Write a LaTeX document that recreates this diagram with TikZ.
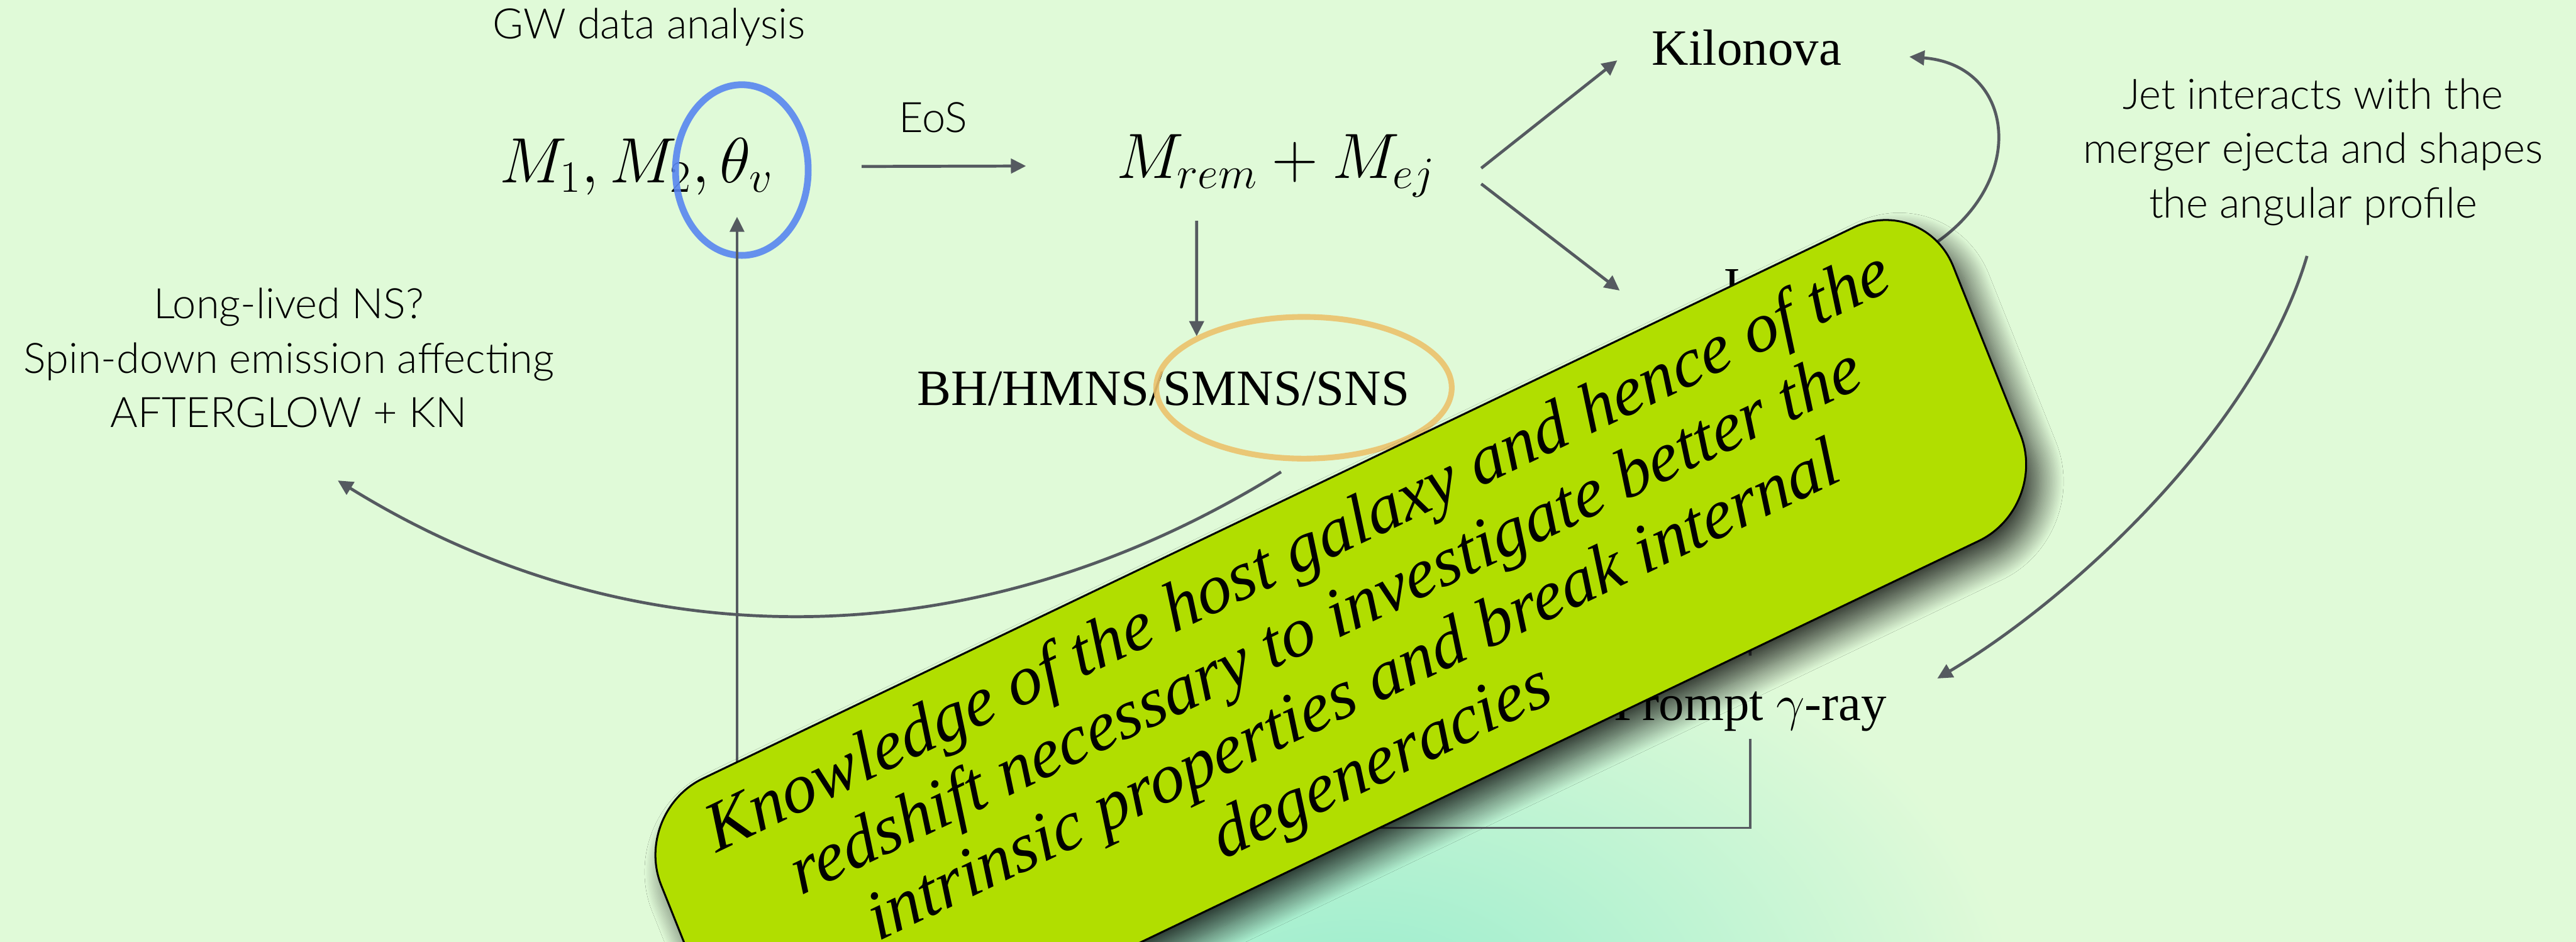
\documentclass[tikz,border=0pt]{standalone}
\usepackage{fix-cm}
\usepackage[no-math]{fontspec}
\setmainfont{Liberation Serif}
\newfontfamily\thinsans{Lato Light}
\usetikzlibrary{arrows.meta,shapes.geometric,shadows.blur}
\definecolor{bgreen}{RGB}{224,250,216}
\definecolor{glowmint}{RGB}{150,236,205}
\definecolor{linkgray}{RGB}{85,90,96}
\definecolor{ringblue}{RGB}{88,134,240}
\definecolor{ringorange}{RGB}{236,194,108}
\definecolor{limefill}{RGB}{177,222,0}

\begin{document}
\begin{tikzpicture}[
  tag/.style={font=\fontsize{24}{28}\selectfont, inner sep=0.12cm},
  note/.style={font=\thinsans\fontsize{19.8}{25.6}\selectfont, align=center, inner sep=0.12cm},
  quantity/.style={font=\fontsize{30.2}{35}\selectfont, inner sep=0.12cm},
  flow/.style={draw=linkgray, line width=1.4pt, -{Triangle[length=0.25cm, width=0.24cm]}},
  link/.style={draw=linkgray, line width=1.4pt},
  ring/.style={draw, ellipse, draw opacity=0.9, inner sep=0, outer sep=0},
  callout/.style={draw=black, line width=0.9pt, fill=limefill, rounded corners=1.3cm,
    minimum width=23.75cm, minimum height=5.6cm, inner sep=0, align=center, transform shape,
    font=\itshape\fontsize{33}{35.5}\selectfont,
    blur shadow={shadow xshift=0.22cm, shadow yshift=-0.28cm, shadow blur radius=0.4cm,
      shadow blur steps=30, shadow opacity=80}}
]
  % Background and glow
  \fill[bgreen] (0,0) rectangle (42.71,15.62);
  \useasboundingbox (0,0) rectangle (42.71,15.62);
  \clip (0,0) rectangle (42.71,15.62);
  \shade[inner color=glowmint, outer color=bgreen] (22.5,-1.5) ellipse (11 and 7.5);

  % Quantities and outcomes
  \node[note, anchor=base] (gw) at (10.76,14.98) {GW data analysis};
  \node[quantity, anchor=base] (params) at (10.55,12.59) {$M_1, M_2, \theta_v$};
  \node[note, anchor=base] (eos) at (15.47,13.42) {EoS};
  \node[quantity, anchor=base] (remnant) at (21.15,12.66) {$M_{rem} + M_{ej}$};
  \node[tag, anchor=base] (kilonova) at (28.96,14.54) {Kilonova};
  \node[tag, anchor=base] (jet) at (28.98,10.60) {Jet};
  \node[tag, anchor=base] (prompt) at (29.02,3.68) {Prompt $\gamma$-ray};
  \node[tag, anchor=base] (remnants) at (19.29,8.90) {BH/HMNS/SMNS/SNS};
  \node[note] (spindown) at (4.79,9.685) {Long-lived NS?\\Spin-down emission affecting\\AFTERGLOW + KN};
  \node[note] (shaping) at (38.35,13.10) {Jet interacts with the\\merger ejecta and shapes\\the angular profile};

  % Arrows
  \draw[flow, shorten <=1.34cm, shorten >=1.37cm] (params.east) -- (remnant.west);
  \draw[flow] ([shift={(0.64,-0.04)}]remnant.east) -- ([shift={(-0.45,-0.21)}]kilonova.west);
  \draw[flow] ([shift={(0.64,-0.30)}]remnant.east) -- ([shift={(-1.53,-0.07)}]jet.west);
  \draw[flow] ([shift={(-1.31,-0.27)}]remnant.south) -- ([shift={(0.55,0.46)}]remnants.north);
  \draw[flow] (jet.east) .. controls (33.65,11.0) and (33.95,14.5) .. ([shift={(1.0,-0.15)}]kilonova.east);
  \draw[flow] ([shift={(-0.10,-0.38)}]shaping.south) .. controls (37.39,8.47) and (34.31,5.67) .. ([shift={(0.71,0.01)}]prompt.north east);
  \draw[link, shorten >=0.39cm] (jet.south) -- (prompt.north);

  % Highlight rings
  \node[ring, draw=ringblue, line width=3.2pt, minimum width=2.2cm, minimum height=2.83cm] (focus) at (12.30,12.80) {};
  \node[ring, draw=ringorange, line width=2.7pt, minimum width=4.9cm, minimum height=2.35cm] (compact) at (21.62,9.19) {};

  \draw[flow, line width=1.1pt] (prompt.south) -- ++(0,-1.48) -| ([shift={(-0.08,0.64)}]focus.south);
  \draw[flow] ([shift={(-0.38,-0.22)}]compact.south) .. controls (16.19,4.64) and (10.46,4.64) .. ([shift={(0.81,-0.75)}]spindown.south);

  % Callout
  \begin{scope}[cm={0.902,0.432,-0.371,0.928,(22.23,4.68)}]
    \node[callout] (redshift) at (0,0) {Knowledge of the host galaxy and hence of the\\redshift necessary to investigate better the\\intrinsic properties and break internal\\degeneracies};
  \end{scope}
\end{tikzpicture}
\end{document}
